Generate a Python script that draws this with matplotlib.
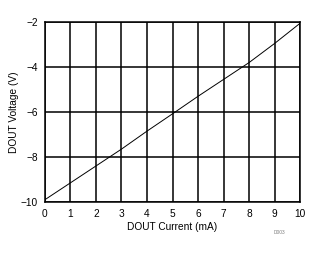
import matplotlib
matplotlib.use("Agg")
import matplotlib.pyplot as plt

current_ma = [0, 1, 2, 3, 4, 5, 6, 7, 8, 9, 10]
voltage_v = [-9.9, -9.15, -8.4, -7.65, -6.85, -6.08, -5.3, -4.55, -3.8, -2.95, -2.05]
x_ticks = [0, 1, 2, 3, 4, 5, 6, 7, 8, 9, 10]
y_ticks = [-10, -8, -6, -4, -2]

plt.rcParams['font.family'] = ['Liberation Sans', 'DejaVu Sans']

fig = plt.figure(figsize=(3.28, 2.54), dpi=100)
ax = fig.add_axes([0.137, 0.205, 0.778, 0.708])
ax.plot(current_ma, voltage_v, color='black', linewidth=0.7)
ax.set_xlim(0, 10)
ax.set_ylim(-10, -2)
ax.set_xticks(x_ticks)
ax.set_yticks(y_ticks)
ax.grid(True, color='black', linewidth=1.1)
for s in ax.spines.values():
    s.set_linewidth(1.1)
ax.tick_params(length=0, labelsize=7.3, pad=5)
ax.set_xlabel('DOUT Current (mA)', fontsize=7.3, labelpad=2)
ax.set_ylabel('DOUT Voltage (V)', fontsize=7.3, labelpad=1)
fig.text(0.87, 0.085, 'D003', fontsize=3.5, color='gray', ha='right', va='center')
fig.savefig('out.png', dpi=100)
